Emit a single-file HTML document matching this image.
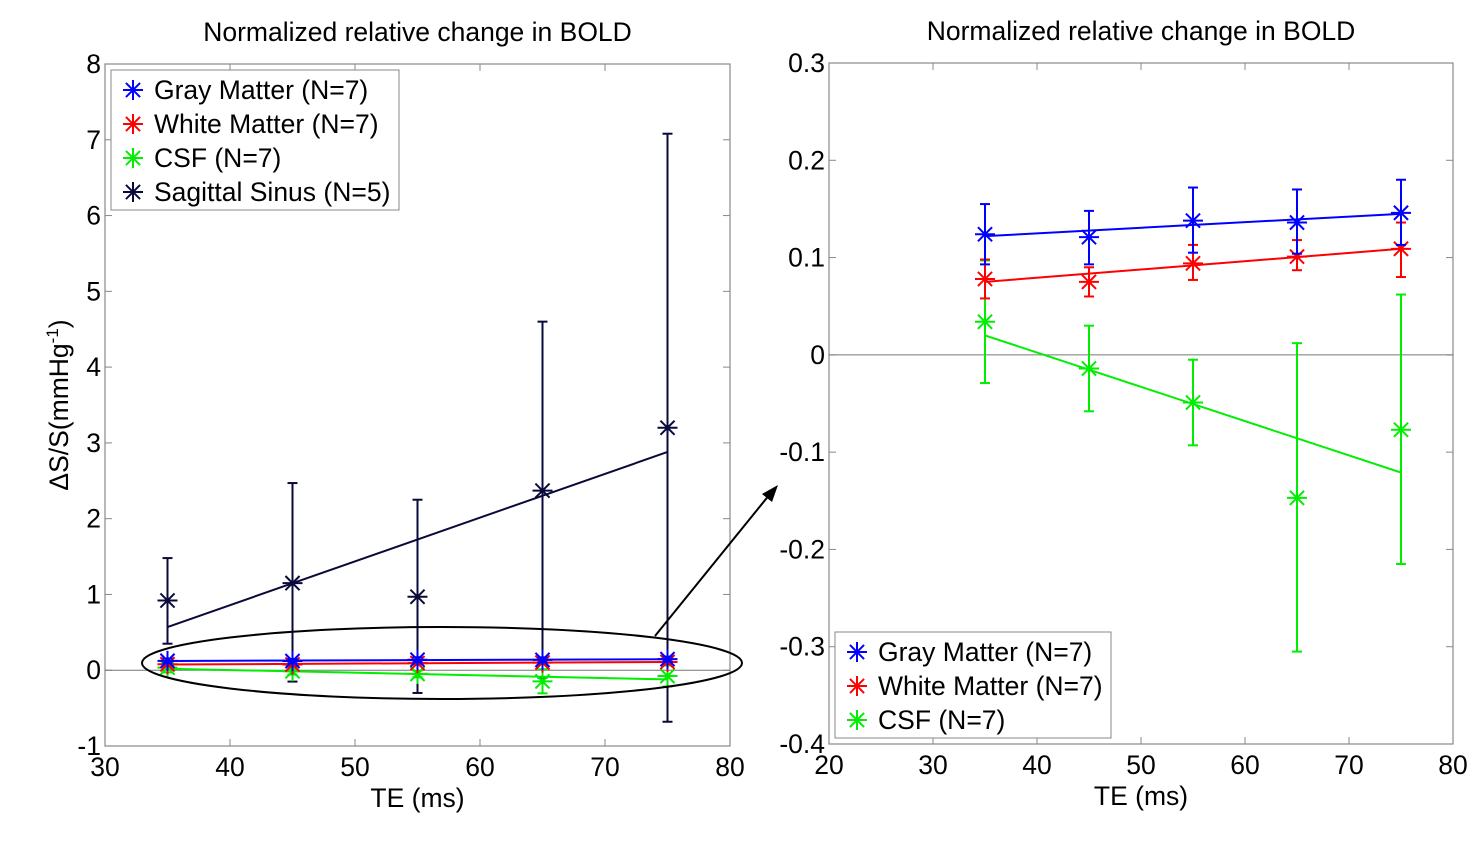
<!DOCTYPE html>
<html><head><meta charset="utf-8"><style>
body{margin:0;background:#fff}
svg text{font-family:"Liberation Sans",sans-serif;fill:#000}
</style></head><body>
<svg id="c" width="1478" height="837"></svg>
<script>
const te=[35,45,55,65,75];
const ssVal=[0.92,1.15,0.97,2.37,3.2];
const ssLo=[0.35,-0.15,-0.3,-0.1,-0.68];
const ssHi=[1.48,2.47,2.25,4.6,7.08];
const ssFit=[0.57,2.88];
const gmVal=[0.124,0.121,0.138,0.136,0.146];
const gmLo=[0.093,0.093,0.105,0.104,0.113];
const gmHi=[0.155,0.148,0.172,0.170,0.180];
const gmFit=[0.122,0.145];
const wmVal=[0.078,0.075,0.094,0.101,0.109];
const wmLo=[0.058,0.060,0.077,0.087,0.080];
const wmHi=[0.098,0.090,0.113,0.118,0.136];
const wmFit=[0.075,0.109];
const csfVal=[0.034,-0.014,-0.049,-0.147,-0.077];
const csfLo=[-0.029,-0.058,-0.093,-0.305,-0.215];
const csfHi=[0.097,0.030,-0.005,0.012,0.062];
const csfFit=[0.020,-0.121];
const leftXTicks=[30,40,50,60,70,80];
const leftYTicks=[-1,0,1,2,3,4,5,6,7,8];
const rightXTicks=[20,30,40,50,60,70,80];
const rightYTicks=[-0.4,-0.3,-0.2,-0.1,0,0.1,0.2,0.3];
const FS=26.5;

const S=document.getElementById('c');const NS='http://www.w3.org/2000/svg';
function mk(t,a,p){const e=document.createElementNS(NS,t);for(const k in a)e.setAttribute(k,a[k]);(p||S).appendChild(e);return e;}
function axes(o){
 const g=mk('g',{});
 
 
 const X=v=>o.x0+(v-o.xmin)/(o.xmax-o.xmin)*(o.x1-o.x0);
 const Y=v=>o.y1-(v-o.ymin)/(o.ymax-o.ymin)*(o.y1-o.y0);
 mk('rect',{x:o.x0,y:o.y0,width:o.x1-o.x0,height:o.y1-o.y0,fill:'none',stroke:'#888','stroke-width':1.2},g);
 o.xt.forEach(v=>{const x=X(v);mk('line',{x1:x,x2:x,y1:o.y1,y2:o.y1-7,stroke:'#888'},g);mk('line',{x1:x,x2:x,y1:o.y0,y2:o.y0+7,stroke:'#888'},g);
  const t=mk('text',{x:x,y:o.y1+30,'font-size':FS,'text-anchor':'middle'},g);t.textContent=v;});
 o.yt.forEach(v=>{const y=Y(v);mk('line',{x1:o.x0,x2:o.x0+7,y1:y,y2:y,stroke:'#888'},g);mk('line',{x1:o.x1,x2:o.x1-7,y1:y,y2:y,stroke:'#888'},g);
  const t=mk('text',{x:o.x0-4,y:y+9,'font-size':FS,'text-anchor':'end'},g);t.textContent=v;});
 mk('line',{x1:o.x0,x2:o.x1,y1:Y(0),y2:Y(0),stroke:'#777','stroke-width':1},g);
 const tt=mk('text',{x:(o.x0+o.x1)/2,y:o.y0-23,'font-size':FS,'text-anchor':'middle'},g);tt.textContent='Normalized relative change in BOLD';
 
 const xl=mk('text',{x:(o.x0+o.x1)/2,y:o.y1+61,'font-size':FS,'text-anchor':'middle'},g);xl.textContent='TE (ms)';
 
 return {X,Y,g};
}
function star(g,x,y,c,r){for(let i=0;i<4;i++){const a=i*Math.PI/4;mk('line',{x1:x-r*Math.cos(a),y1:y-r*Math.sin(a),x2:x+r*Math.cos(a),y2:y+r*Math.sin(a),stroke:c,'stroke-width':2},g);}}
function series(A,name,val,lo,hi,fit,c){
 const g=mk('g',{},A.g);
 
 
 mk('line',{x1:A.X(te[0]),y1:A.Y(fit[0]),x2:A.X(te[te.length-1]),y2:A.Y(fit[1]),stroke:c,'stroke-width':2},g);
 te.forEach((t,i)=>{const x=A.X(t);mk('line',{x1:x,x2:x,y1:A.Y(lo[i]),y2:A.Y(hi[i]),stroke:c,'stroke-width':2},g);
  [lo[i],hi[i]].forEach(v=>mk('line',{x1:x-5,x2:x+5,y1:A.Y(v),y2:A.Y(v),stroke:c,'stroke-width':2},g));
  star(g,x,A.Y(val[i]),c,10);});
}
function legend(p,x,y,w,items){
 const g=mk('g',{},p);
 
 
 mk('rect',{x:x,y:y,width:w,height:items.length*34+4,fill:'#fff',stroke:'#888'},g);
 items.forEach((it,i)=>{const yy=y+20+i*34;star(g,x+22,yy,it[1],10);const t=mk('text',{x:x+43,y:yy+9,'font-size':FS},g);t.textContent=it[0];
  });
}
const L=axes({name:'left-plot',x0:105,x1:730,y0:64,y1:746,xmin:30,xmax:80,ymin:-1,ymax:8,xt:leftXTicks,yt:leftYTicks});
const yl=mk('text',{x:0,y:0,'font-size':FS,'text-anchor':'middle',transform:'translate(68,405) rotate(-90)'},L.g);
yl.innerHTML='ΔS/S(mmHg<tspan dy="-10" font-size="17">-1</tspan><tspan dy="10">)</tspan>';

series(L,'sagittal-sinus-series',ssVal,ssLo,ssHi,ssFit,'#0a0a3a');
series(L,'csf-series',csfVal,csfLo,csfHi,csfFit,'#00ee00');
series(L,'white-matter-series',wmVal,wmLo,wmHi,wmFit,'#ff0000');
series(L,'gray-matter-series',gmVal,gmLo,gmHi,gmFit,'#0000ff');
legend(L.g,111,70,288,[['Gray Matter (N=7)','#0000ff'],['White Matter (N=7)','#ff0000'],['CSF (N=7)','#00ee00'],['Sagittal Sinus (N=5)','#0a0a3a']]);
const el=mk('ellipse',{cx:442,cy:663,rx:300,ry:36,fill:'none',stroke:'#000','stroke-width':2});

const ar=mk('line',{x1:655,y1:636,x2:770,y2:494,stroke:'#000','stroke-width':2});

mk('polygon',{points:'778,485 762,494 772,502',fill:'#000'});
const R=axes({name:'right-plot',x0:829,x1:1453,y0:63,y1:744,xmin:20,xmax:80,ymin:-0.4,ymax:0.3,xt:rightXTicks,yt:rightYTicks});
series(R,'csf-series',csfVal,csfLo,csfHi,csfFit,'#00ee00');
series(R,'white-matter-series',wmVal,wmLo,wmHi,wmFit,'#ff0000');
series(R,'gray-matter-series',gmVal,gmLo,gmHi,gmFit,'#0000ff');
legend(R.g,835,632,276,[['Gray Matter (N=7)','#0000ff'],['White Matter (N=7)','#ff0000'],['CSF (N=7)','#00ee00']]);
</script>
</body></html>
